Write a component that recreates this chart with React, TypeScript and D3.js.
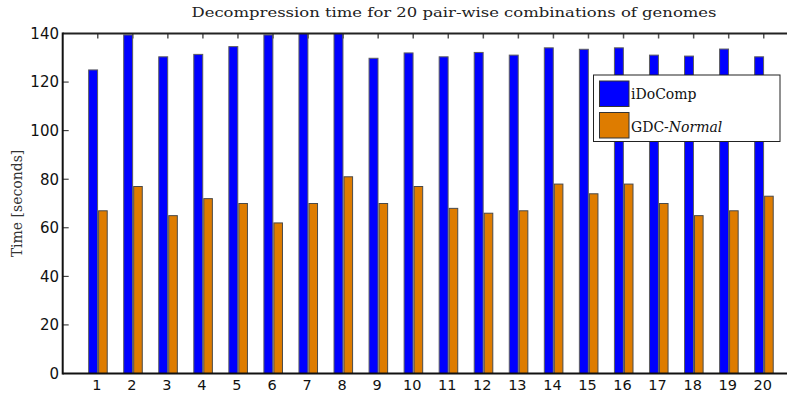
import * as d3 from 'd3'

const categories = d3.range(1, 21)
const idocomp = [125, 139.4, 130.4, 131.4, 134.6, 139.4, 140, 140, 129.8, 132, 130.4, 132.2, 131.1, 134.1, 133.5, 134.1, 131.1, 130.7, 133.6, 130.4]
const gdcNormal = [67, 77, 65, 72, 70, 62, 70, 81, 70, 77, 68, 66, 67, 78, 74, 78, 70, 65, 67, 73]
const yTicks = [0, 20, 40, 60, 80, 100, 120, 140]

const W = 787, H = 394

const App = () => {
    const margin = {top: 33.5, left: 62.7, bottom: 373.5}

    // x axis runs 0..21 like matlab, the right part falls off the picture
    const x = d3.scaleLinear().domain([0, 21]).range([margin.left, 798.8])
    const y = d3.scaleLinear().domain([0, 140]).range([margin.bottom, margin.top])

    const blueBars = idocomp.map((v, i) => {
        const c = categories[i]
        return (
            <rect key={'b' + c}
                x={x(c - 0.26)} y={y(v)}
                width={x(c - 0.005) - x(c - 0.26)} height={y(0) - y(v)}
                fill="#0000ff" stroke="#5e5e5e" strokeWidth={1} />
        )
    })
    const orangeBars = gdcNormal.map((v, i) => {
        const c = categories[i]
        return (
            <rect key={'o' + c}
                x={x(c + 0.025)} y={y(v)}
                width={x(c + 0.27) - x(c + 0.025)} height={y(0) - y(v)}
                fill="#de7c00" stroke="#4a4a4a" strokeWidth={1} />
        )
    })

    return (
        <svg width={W} height={H} style={{position: 'absolute', left: 0, top: 0}}>
            <rect width={W} height={H} fill="#fff" />
            <defs>
                <clipPath id="plot">
                    <rect x={margin.left} y={margin.top} width={W - margin.left} height={margin.bottom - margin.top} />
                </clipPath>
            </defs>
            <g clipPath="url(#plot)">
                {blueBars}
                {orangeBars}
            </g>

            {/* ticks */}
            {categories.map(c => (
                <g key={'xt' + c}>
                    <line x1={x(c)} x2={x(c)} y1={margin.top} y2={margin.top + 5} stroke="#555" strokeWidth={1.5} />
                    <text x={x(c) - 1} y={390} textAnchor="middle" fontFamily="DejaVu Sans" fontSize={14.5} fill="#111">{c}</text>
                </g>
            ))}
            {yTicks.map(t => (
                <g key={'yt' + t}>
                    <line x1={margin.left} x2={margin.left + 6} y1={y(t)} y2={y(t)} stroke="#222" strokeWidth={1} />
                    <text x={59} y={y(t)} dy="0.36em" textAnchor="end" fontFamily="DejaVu Sans" fontSize={15} fill="#111">{t}</text>
                </g>
            ))}

            {/* axis box */}
            <line x1={margin.left} x2={W} y1={margin.top} y2={margin.top} stroke="#222" strokeWidth={2} />
            <line x1={margin.left} x2={W} y1={margin.bottom} y2={margin.bottom} stroke="#111" strokeWidth={2} />
            <line x1={margin.left} x2={margin.left} y1={margin.top - 1} y2={margin.bottom + 1} stroke="#111" strokeWidth={2} />

            <text x={454} y={17} textAnchor="middle" fontFamily="DejaVu Serif" fontSize={12} fill="#222"
                textLength={525} lengthAdjust="spacingAndGlyphs">
                Decompression time for 20 pair-wise combinations of genomes
            </text>
            <text transform={`translate(22,${(margin.top + margin.bottom) / 2}) rotate(-90)`} textAnchor="middle"
                fontFamily="DejaVu Serif" fontSize={14} fill="#333">
                Time [seconds]
            </text>

            {/* legend */}
            <rect x={593.5} y={75} width={186.5} height={66.5} fill="#fff" stroke="#222" strokeWidth={1} />
            <rect x={599.5} y={81} width={29.5} height={25.5} fill="#0000ff" stroke="#333" strokeWidth={1} />
            <rect x={599.5} y={112.5} width={29.5} height={25.5} fill="#de7c00" stroke="#333" strokeWidth={1} />
            <text x={631} y={98.5} fontFamily="DejaVu Serif" fontSize={14} fill="#111">iDoComp</text>
            <text x={631} y={131.5} fontFamily="DejaVu Serif" fontSize={14} fill="#111">
                GDC-<tspan fontStyle="italic">Normal</tspan>
            </text>
        </svg>
    )
}

export default App
